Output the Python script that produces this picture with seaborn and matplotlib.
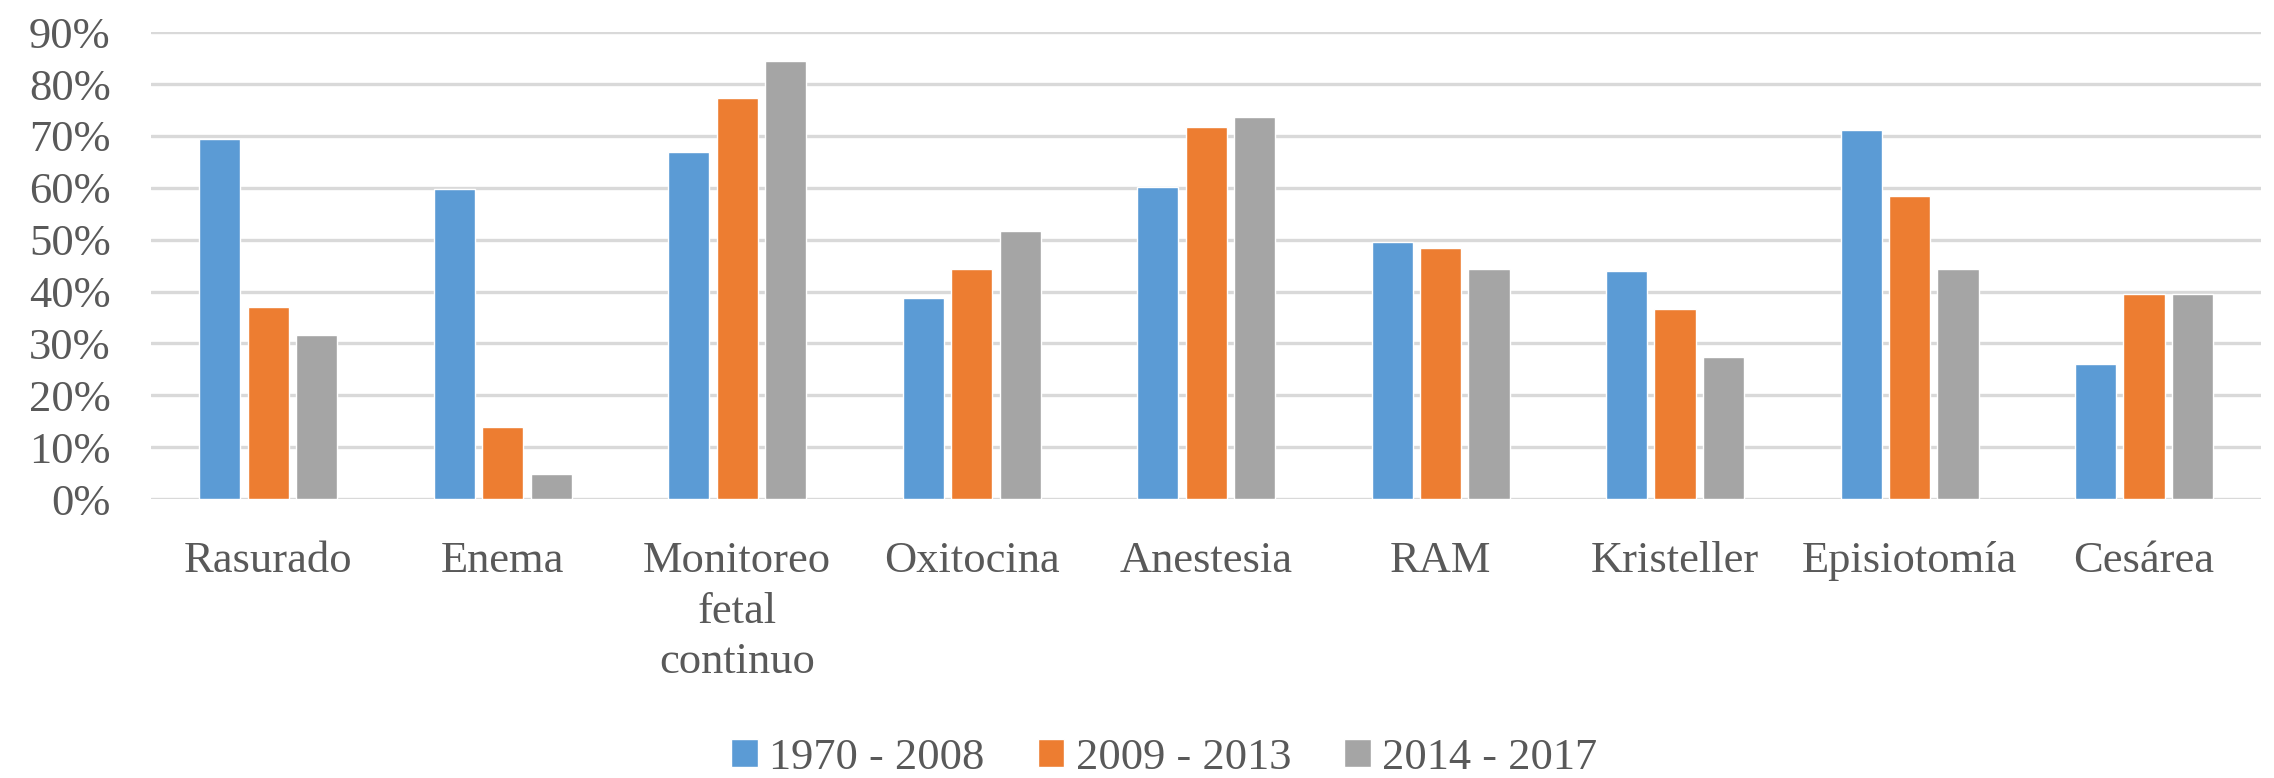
import pandas as pd
import seaborn as sns
import matplotlib.pyplot as plt
from matplotlib.ticker import PercentFormatter

# Datos (proporciones)
categorias = ["Rasurado", "Enema", "Monitoreo\nfetal\ncontinuo", "Oxitocina", "Anestesia",
              "RAM", "Kristeller", "Episiotomía", "Cesárea"]
periodos = ["1970 - 2008", "2009 - 2013", "2014 - 2017"]
v_1970_2008 = [0.694, 0.597, 0.670, 0.387, 0.602, 0.495, 0.439, 0.712, 0.261]
v_2009_2013 = [0.370, 0.139, 0.773, 0.443, 0.717, 0.484, 0.366, 0.585, 0.396]
v_2014_2017 = [0.317, 0.049, 0.845, 0.517, 0.737, 0.444, 0.274, 0.444, 0.396]

colores = ["#5B9BD5", "#ED7D31", "#A5A5A5"]
texto = "#595959"

# Tabla larga para seaborn
df = pd.DataFrame({
    "categoria": categorias * 3,
    "periodo": [p for p in periodos for _ in categorias],
    "valor": v_1970_2008 + v_2009_2013 + v_2014_2017,
})

sns.set_style("white")
plt.rcParams["font.family"] = ["Liberation Serif", "DejaVu Serif"]

fig = plt.figure(figsize=(22.74, 7.78), dpi=100)
ax = fig.add_axes([0.0664, 0.3586, 0.928, 0.600])

sns.barplot(data=df, x="categoria", y="valor", hue="periodo", palette=colores,
            width=0.62, gap=0.15, saturation=1, ax=ax, zorder=3)

ax.set_ylim(0, 0.9)
ax.set_yticks([i / 10 for i in range(10)])
ax.yaxis.set_major_formatter(PercentFormatter(1.0, decimals=0))
ax.grid(axis="y", color="#D9D9D9", linewidth=2.4, zorder=0)
ax.set_axisbelow(True)
for s in ax.spines.values():
    s.set_visible(False)

ax.set_xlabel("")
ax.set_ylabel("")
ax.tick_params(axis="both", length=0, labelsize=32, labelcolor=texto)
ax.tick_params(axis="x", pad=30)
ax.tick_params(axis="y", pad=29)
for t in ax.get_xticklabels():
    t.set_linespacing(1.35)
ax.set_xlim(-0.5, len(categorias) - 0.5)

# Leyenda abajo
handles, labels = ax.get_legend_handles_labels()
ax.get_legend().remove()
fig.legend(handles, labels, loc="center", bbox_to_anchor=(0.512, 0.026), ncol=3,
           frameon=False, fontsize=32, labelcolor=texto, handlelength=0.6,
           handleheight=0.6, handletextpad=0.25, columnspacing=1.2,
           borderpad=0, borderaxespad=0)

plt.savefig("out.png", dpi=100)
plt.close()
